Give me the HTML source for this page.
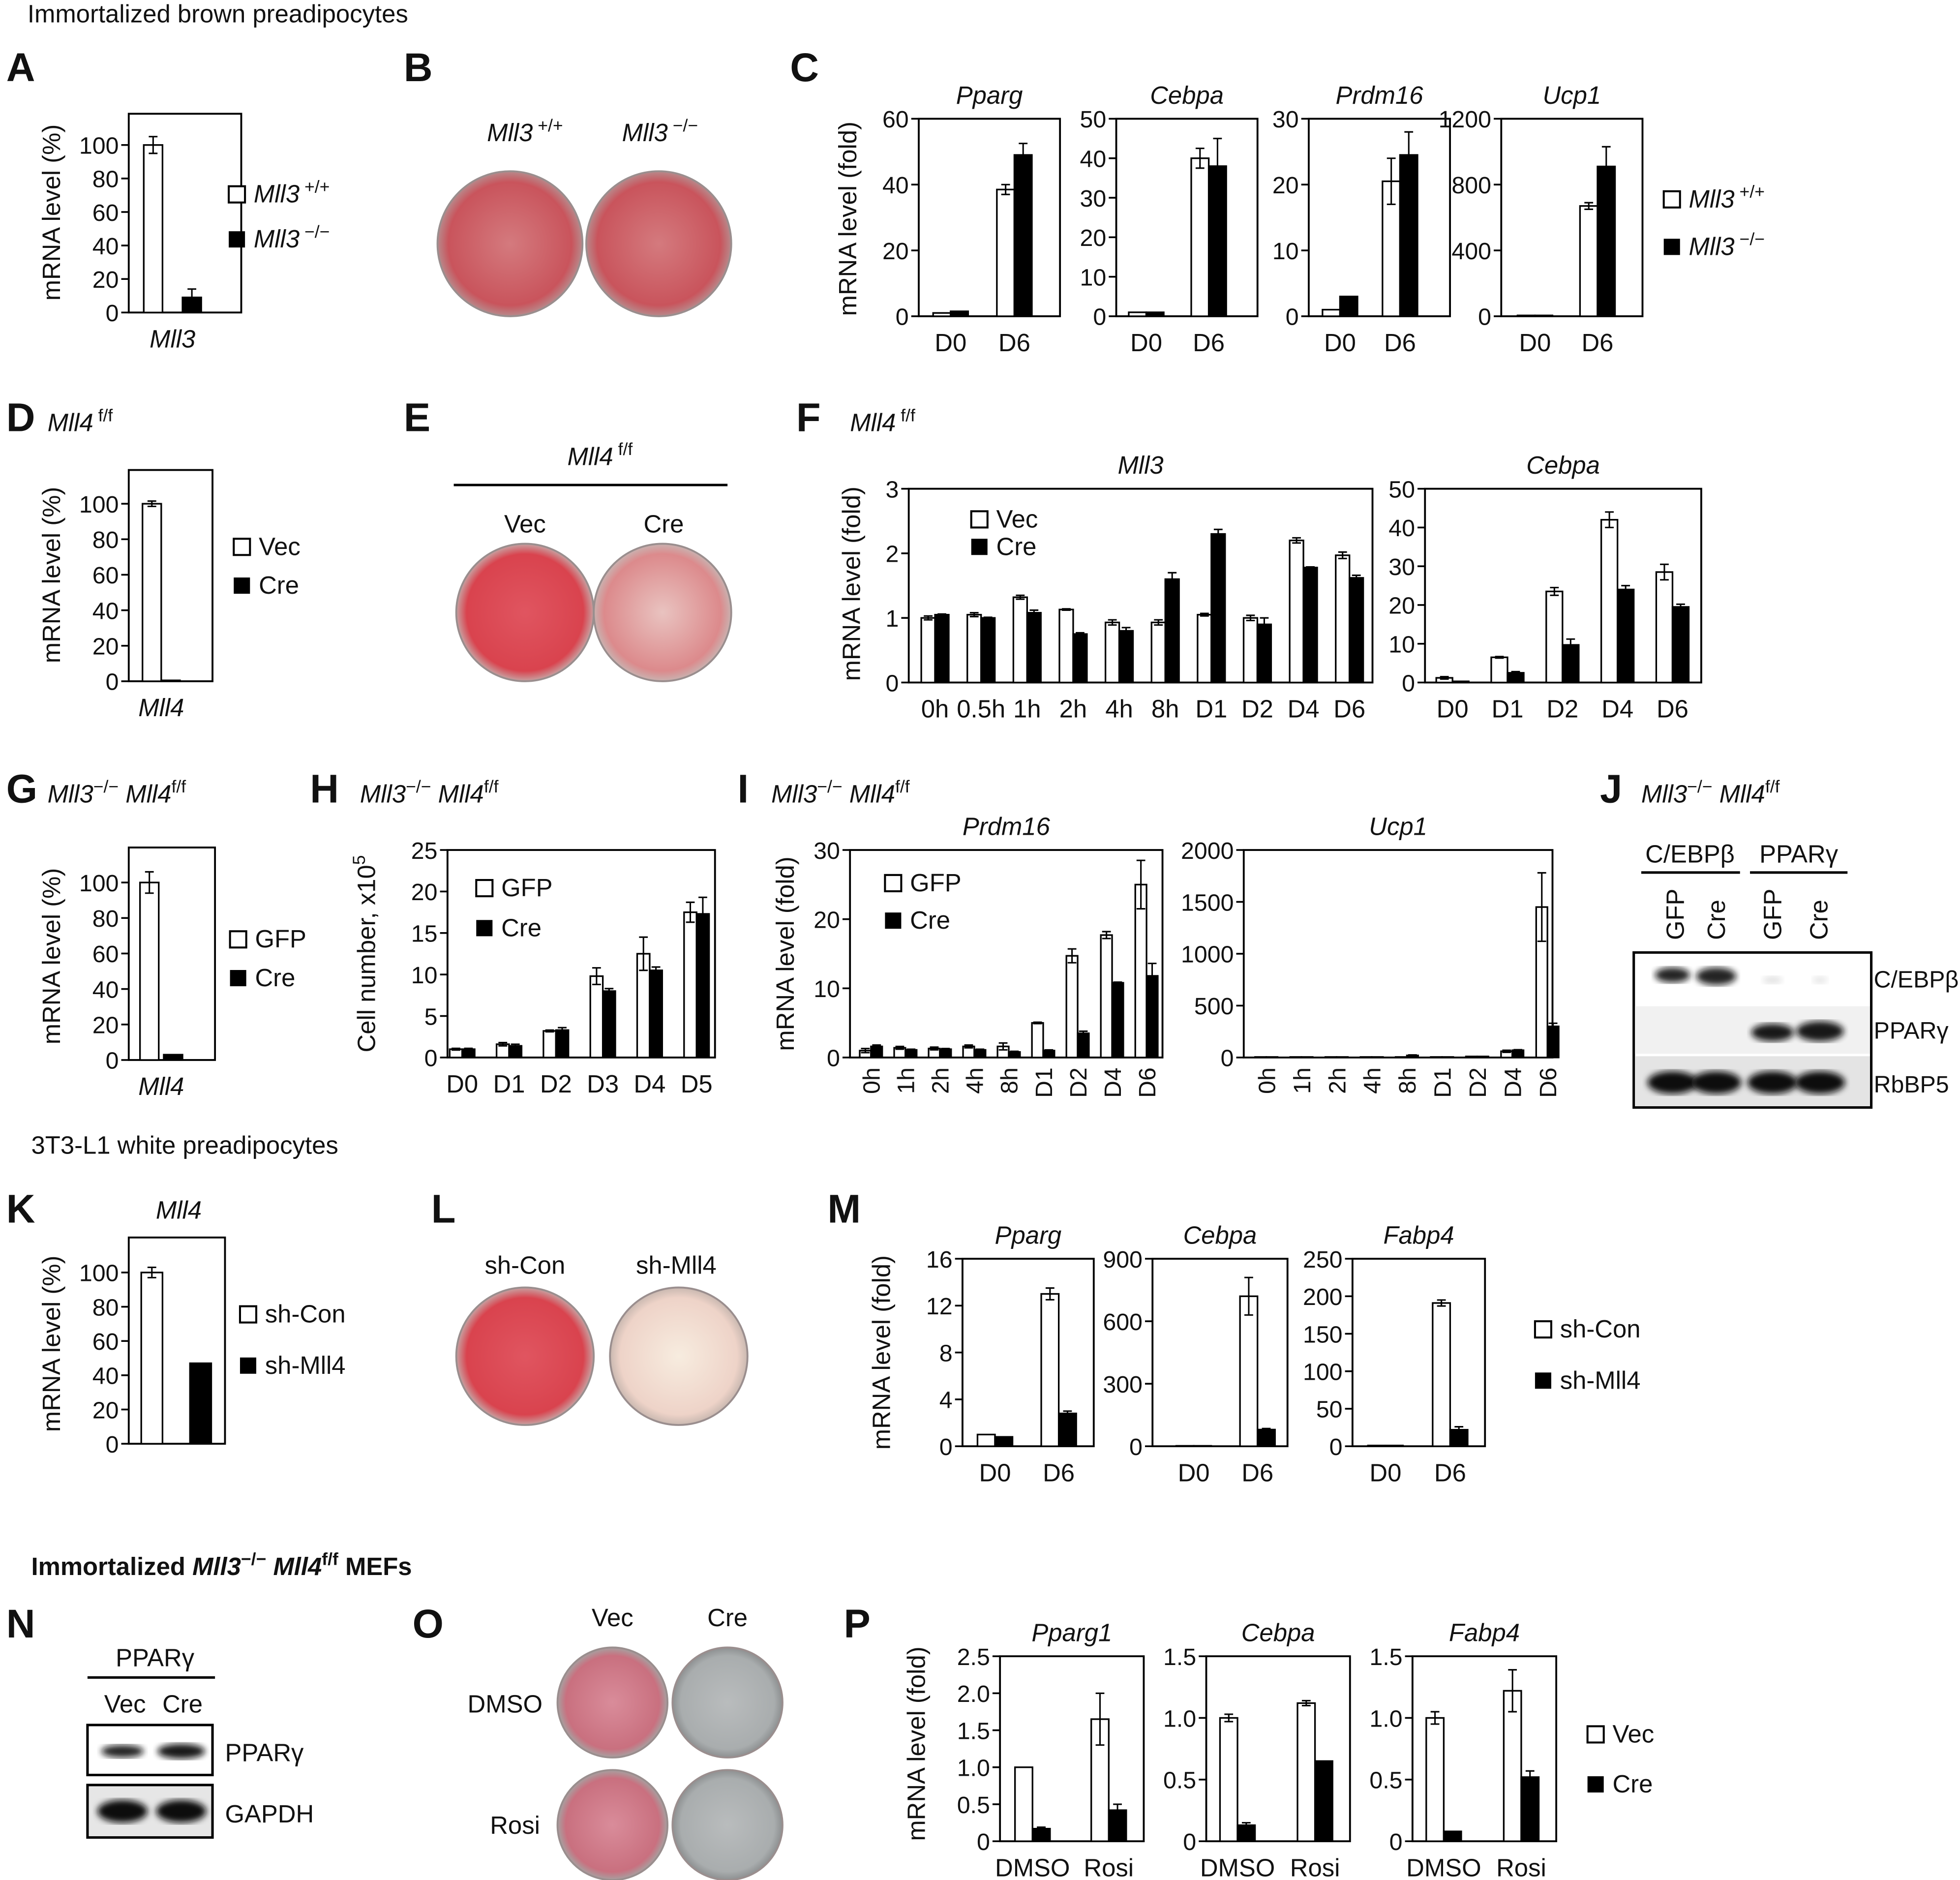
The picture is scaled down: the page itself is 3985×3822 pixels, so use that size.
<!DOCTYPE html>
<html><head><meta charset="utf-8"><style>html,body{margin:0;padding:0;background:#fff}svg{display:block}</style></head>
<body>
<svg id="fig" xmlns="http://www.w3.org/2000/svg" width="3985" height="3822" viewBox="0 0 1568 1504" preserveAspectRatio="none" font-family="Liberation Sans, Arial, sans-serif">
<defs>
<radialGradient id="red1"><stop offset="0" stop-color="#d47a7e"/><stop offset="0.85" stop-color="#c9545c"/><stop offset="1" stop-color="#b8898b"/></radialGradient>
<radialGradient id="red2"><stop offset="0" stop-color="#e05560"/><stop offset="0.85" stop-color="#d9434e"/><stop offset="1" stop-color="#c7a2a2"/></radialGradient>
<radialGradient id="red3"><stop offset="0" stop-color="#e9c3c0"/><stop offset="0.85" stop-color="#dc8a8c"/><stop offset="1" stop-color="#c9b2b0"/></radialGradient>
<radialGradient id="pale"><stop offset="0" stop-color="#f7ecdf"/><stop offset="0.85" stop-color="#eed3c8"/><stop offset="1" stop-color="#c9b8b0"/></radialGradient>
<radialGradient id="pink"><stop offset="0" stop-color="#d98c9a"/><stop offset="0.85" stop-color="#c9707f"/><stop offset="1" stop-color="#a7a0a0"/></radialGradient>
<radialGradient id="grey"><stop offset="0" stop-color="#b9bcbd"/><stop offset="0.85" stop-color="#a9adae"/><stop offset="1" stop-color="#8d9091"/></radialGradient>
<filter id="blur"><feGaussianBlur stdDeviation="2.5"/></filter>
</defs>
</svg>
<script>
// ---- data ----
const aCats=["Mll3"], aW=[100], aWE=[5], aB=[9], aBE=[5];
const c2Cats=["D0","D6"];
const cPpargW=[1,38.5], cPpargWE=[0,1.5], cPpargB=[1.5,49], cPpargBE=[0,3.5];
const cCebpaW=[1,40], cCebpaWE=[0,2.5], cCebpaB=[1,38], cCebpaBE=[0,7];
const cPrdmW=[1,20.5], cPrdmWE=[0,3.5], cPrdmB=[3,24.5], cPrdmBE=[0,3.5];
const cUcpW=[5,670], cUcpWE=[0,20], cUcpB=[5,910], cUcpBE=[0,120];
const dCats=["Mll4"], dW=[100], dWE=[1.5], dB=[0.5], dBE=[0];
const fCats=["0h","0.5h","1h","2h","4h","8h","D1","D2","D4","D6"];
const fMll3W=[1,1.05,1.32,1.13,0.93,0.93,1.05,1.0,2.2,1.97], fMll3WE=[0.03,0.03,0.03,0.01,0.04,0.04,0.02,0.04,0.04,0.05];
const fMll3B=[1.05,1.0,1.08,0.75,0.8,1.6,2.3,0.9,1.78,1.62], fMll3BE=[0.01,0.01,0.04,0.02,0.05,0.1,0.07,0.1,0.01,0.04];
const fCCats=["D0","D1","D2","D4","D6"];
const fCebW=[1.2,6.5,23.5,42,28.5], fCebWE=[0.3,0.2,1,2,2];
const fCebB=[0.3,2.5,9.7,24,19.5], fCebBE=[0,0.3,1.5,1,0.7];
const gCats=["Mll4"], gW=[100], gWE=[6], gB=[3], gBE=[0];
const hCats=["D0","D1","D2","D3","D4","D5"];
const hW=[1,1.6,3.2,9.8,12.5,17.5], hWE=[0.1,0.2,0.1,1,2,1.2];
const hB=[1,1.4,3.3,8,10.5,17.3], hBE=[0.1,0.2,0.3,0.3,0.4,2];
const iCats=["0h","1h","2h","4h","8h","D1","D2","D4","D6"];
const iPrdW=[1,1.4,1.3,1.6,1.6,5,14.7,17.7,25], iPrdWE=[0.3,0.2,0.2,0.2,0.5,0.1,1,0.5,3.5];
const iPrdB=[1.6,1.1,1.2,1.1,0.8,1,3.5,10.8,11.8], iPrdBE=[0.2,0.1,0.1,0.1,0.1,0.1,0.3,0.1,1.8];
const iUcpW=[5,5,5,5,5,5,10,60,1450], iUcpWE=[0,0,0,0,0,0,0,10,330];
const iUcpB=[5,5,5,5,20,5,10,70,300], iUcpBE=[0,0,0,0,5,0,0,5,30];
const kCats=["Mll4"], kW=[100], kWE=[3], kB=[47], kBE=[0];
const mPpargW=[1,13], mPpargWE=[0,0.5], mPpargB=[0.8,2.8], mPpargBE=[0,0.2];
const mCebW=[2,720], mCebWE=[0,90], mCebB=[2,80], mCebBE=[0,5];
const mFabW=[1,191], mFabWE=[0,4], mFabB=[1,22], mFabBE=[0,4];
const pCats=["DMSO","Rosi"];
const pPpargW=[1,1.65], pPpargWE=[0,0.35], pPpargB=[0.17,0.42], pPpargBE=[0.02,0.08];
const pCebW=[1.0,1.12], pCebWE=[0.03,0.02], pCebB=[0.13,0.65], pCebBE=[0.02,0];
const pFabW=[1.0,1.22], pFabWE=[0.05,0.17], pFabB=[0.08,0.52], pFabBE=[0,0.05];

const S='http://www.w3.org/2000/svg';
const svg=document.getElementById('fig');
function el(tag,a,p){const e=document.createElementNS(S,tag);for(const k in a)e.setAttribute(k,a[k]);(p||svg).appendChild(e);return e;}
function T(x,y,html,o){o=o||{};const e=el('text',{x:x,y:y,'font-size':o.fs||20,'text-anchor':o.anchor||'start',fill:'#111'});
 if(o.it)e.setAttribute('font-style','italic');if(o.b)e.setAttribute('font-weight','bold');
 if(o.rot)e.setAttribute('transform','rotate('+o.rot+' '+x+' '+y+')');e.innerHTML=html;return e;}
function ln(x1,y1,x2,y2,w){return el('line',{x1:x1,y1:y1,x2:x2,y2:y2,stroke:'#000','stroke-width':w||1.4});}

function panel(c){
 const g=el('g',{});
 
 
 const ys=v=>c.yZ-(v/c.vM)*(c.yZ-c.yM);
 el('rect',{x:c.x0,y:c.yT,width:c.x1-c.x0,height:c.yZ-c.yT,fill:'none',stroke:'#000','stroke-width':1.5},g);
 c.ticks.forEach(t=>{const y=ys(parseFloat(t));el('line',{x1:c.x0-6,y1:y,x2:c.x0,y2:y,stroke:'#000','stroke-width':1.4},g);
  const tx=T(c.x0-8,y+7,t,{fs:19,anchor:'end'});g.appendChild(tx);
  });
 const n=c.cats.length,step=(c.x1-c.x0-c.padL-c.padR)/n,bw=c.bw,gap=c.gap||0;
 c.cats.forEach((cat,i)=>{
  const cx=c.x0+c.padL+step*(i+0.5);
  [[c.w,c.we,'#fff',cx-bw-gap/2,'bar-white'],[c.b,c.be,'#000',cx+gap/2,'bar-black']].forEach(s=>{
   const v=s[0][i],e=s[1][i],y=ys(v);
   const r=el('rect',{x:s[3],y:y,width:bw,height:c.yZ-y,fill:s[2],stroke:'#000','stroke-width':1.3},g);
   
   if(e>0){const m=s[3]+bw/2;el('line',{x1:m,y1:ys(v+e),x2:m,y2:ys(v-e)<y?ys(v-e):y,stroke:'#000','stroke-width':1.2},g);
    el('line',{x1:m-3.5,y1:ys(v+e),x2:m+3.5,y2:ys(v+e),stroke:'#000','stroke-width':1.2},g);
    if(s[2]=='#fff'){el('line',{x1:m,y1:y,x2:m,y2:ys(v-e),stroke:'#000','stroke-width':1.2},g);el('line',{x1:m-3.5,y1:ys(v-e),x2:m+3.5,y2:ys(v-e),stroke:'#000','stroke-width':1.2},g);}}
  });
  let lab;
  if(c.rotX){lab=T(cx+7,c.yZ+8,cat,{fs:19,anchor:'end',rot:-90});}
  else lab=T(cx,c.yZ+28,cat,{fs:c.xfs||20,anchor:'middle',it:c.xIt});
  g.appendChild(lab);
 });
 if(c.title){const t=T((c.x0+c.x1)/2,c.yT-12,c.title,{it:true,anchor:'middle'});g.appendChild(t);}
}
function legend(x,y1,y2,l1,l2,fs){
 const a=el('rect',{x:x,y:y1-13,width:13,height:13,fill:'#fff',stroke:'#000','stroke-width':1.6});
 
 const b=el('rect',{x:x,y:y2-13,width:13,height:13,fill:'#000'});
 
 const t1=T(x+20,y1,l1,{fs:fs||20});
 const t2=T(x+20,y2,l2,{fs:fs||20});
}
function L(x,y,s){const t=T(x,y,s,{fs:32,b:true});}
function ylab(x,y,s){const t=T(x,y,s,{fs:20,anchor:'middle',rot:-90});}
function dish(x,y,r,f,nm){const c=el('circle',{cx:x,cy:y,r:r,fill:'url(#'+f+')',stroke:'#9a8e8e','stroke-width':1.5});}
function band(x,y,w,h,op){el('ellipse',{cx:x,cy:y,rx:w,ry:h,fill:'#111',opacity:op,filter:'url(#blur)'});}
const sup=s=>'<tspan dy="-8" font-size="14">'+s+'</tspan>';
const MM='<tspan font-style="italic">Mll3</tspan>'+sup('−/−')+'<tspan dy="8"> </tspan><tspan font-style="italic">Mll4</tspan>'+sup('f/f');

// headers
let h=T(22,18,'Immortalized brown preadipocytes',{fs:20});
h=T(25,923,'3T3-L1 white preadipocytes',{fs:20});
h=T(25,1260,'Immortalized <tspan font-style="italic">Mll3</tspan>'+sup('−/−')+'<tspan dy="8"> </tspan><tspan font-style="italic">Mll4</tspan>'+sup('f/f')+'<tspan dy="8"> MEFs</tspan>',{fs:20,b:true});

// A
L(5,65,'A');ylab(48,170,'mRNA level (%)');
panel({name:'panel-a-chart',x0:103,x1:193,yT:91,yZ:250,yM:116,vM:100,ticks:['0','20','40','60','80','100'],cats:aCats,w:aW,we:aWE,b:aB,be:aBE,padL:5,padR:25,bw:15,gap:16,xIt:true});
legend(183,162,198,'<tspan font-style="italic">Mll3</tspan>'+sup(' +/+'),'<tspan font-style="italic">Mll3</tspan>'+sup(' −/−'));
// B
L(323,65,'B');
T(420,113,'<tspan font-style="italic">Mll3</tspan>'+sup(' +/+'),{anchor:'middle'});T(528,113,'<tspan font-style="italic">Mll3</tspan>'+sup(' −/−'),{anchor:'middle'});
dish(408,195,58,'red1','dish-wt');dish(527,195,58,'red1','dish-ko');
// C
L(632,65,'C');ylab(685,175,'mRNA level (fold)');
panel({name:'panel-c-pparg',title:'Pparg',x0:735,x1:848,yT:95,yZ:253,yM:95,vM:60,ticks:['0','20','40','60'],cats:c2Cats,w:cPpargW,we:cPpargWE,b:cPpargB,be:cPpargBE,padL:0,padR:11,bw:14});
panel({name:'panel-c-cebpa',title:'Cebpa',x0:893,x1:1006,yT:95,yZ:253,yM:95,vM:50,ticks:['0','10','20','30','40','50'],cats:c2Cats,w:cCebpaW,we:cCebpaWE,b:cCebpaB,be:cCebpaBE,padL:-1,padR:14,bw:14});
panel({name:'panel-c-prdm16',title:'Prdm16',x0:1047,x1:1160,yT:95,yZ:253,yM:95,vM:30,ticks:['0','10','20','30'],cats:c2Cats,w:cPrdmW,we:cPrdmWE,b:cPrdmB,be:cPrdmBE,padL:1,padR:16,bw:14});
panel({name:'panel-c-ucp1',title:'Ucp1',x0:1201,x1:1314,yT:95,yZ:253,yM:95,vM:1200,ticks:['0','400','800','1200'],cats:c2Cats,w:cUcpW,we:cUcpWE,b:cUcpB,be:cUcpBE,padL:2,padR:11,bw:14});
legend(1331,166,204,'<tspan font-style="italic">Mll3</tspan>'+sup(' +/+'),'<tspan font-style="italic">Mll3</tspan>'+sup(' −/−'));
// D
L(5,345,'D');T(38,345,'<tspan font-style="italic">Mll4</tspan>'+sup(' f/f'));ylab(48,460,'mRNA level (%)');
panel({name:'panel-d-chart',x0:103,x1:170,yT:376,yZ:545,yM:403,vM:100,ticks:['0','20','40','60','80','100'],cats:dCats,w:dW,we:dWE,b:dB,be:dBE,padL:0,padR:15,bw:15,gap:0,xIt:true});
legend(187,444,475,'Vec','Cre');
// E
L(323,345,'E');T(480,372,'<tspan font-style="italic">Mll4</tspan>'+sup(' f/f'),{anchor:'middle'});ln(363,388,582,388,2);
T(420,426,'Vec',{anchor:'middle'});T(531,426,'Cre',{anchor:'middle'});
dish(420,490,55,'red2','dish-vec');dish(530,490,55,'red3','dish-cre');
// F
L(637,345,'F');T(680,345,'<tspan font-style="italic">Mll4</tspan>'+sup(' f/f'));ylab(688,467,'mRNA level (fold)');
panel({name:'panel-f-mll3',title:'Mll3',x0:727,x1:1098,yT:391,yZ:546,yM:391,vM:3,ticks:['0','1','2','3'],cats:fCats,w:fMll3W,we:fMll3WE,b:fMll3B,be:fMll3BE,padL:2.6,padR:0,bw:11});
panel({name:'panel-f-cebpa',title:'Cebpa',x0:1140,x1:1361,yT:391,yZ:546,yM:391,vM:50,ticks:['0','10','20','30','40','50'],cats:fCCats,w:fCebW,we:fCebWE,b:fCebB,be:fCebBE,padL:0,padR:1,bw:13});
legend(777,422,444,'Vec','Cre');
// G
L(5,642,'G');T(38,642,MM);ylab(48,765,'mRNA level (%)');
panel({name:'panel-g-chart',x0:103,x1:172,yT:678,yZ:848,yM:706,vM:100,ticks:['0','20','40','60','80','100'],cats:gCats,w:gW,we:gWE,b:gB,be:gBE,padL:0,padR:17,bw:15,gap:4,xIt:true});
legend(184,758,789,'GFP','Cre');
// H
L(248,642,'H');T(288,642,MM);ylab(300,763,'Cell number, x10'+sup('5'));
panel({name:'panel-h-chart',x0:358,x1:572,yT:680,yZ:846,yM:680,vM:25,ticks:['0','5','10','15','20','25'],cats:hCats,w:hW,we:hWE,b:hB,be:hBE,padL:-7,padR:-4,bw:10});
legend(381,717,749,'GFP','Cre');
// I
L(590,642,'I');T(617,642,MM);ylab(635,763,'mRNA level (fold)');
panel({name:'panel-i-prdm16',title:'Prdm16',x0:680,x1:930,yT:680,yZ:846,yM:680,vM:30,ticks:['0','10','20','30'],cats:iCats,w:iPrdW,we:iPrdWE,b:iPrdB,be:iPrdBE,padL:3,padR:-1,bw:9,rotX:true});
panel({name:'panel-i-ucp1',title:'Ucp1',x0:995,x1:1242,yT:680,yZ:846,yM:680,vM:2000,ticks:['0','500','1000','1500','2000'],cats:iCats,w:iUcpW,we:iUcpWE,b:iUcpB,be:iUcpBE,padL:4,padR:-10,bw:9,rotX:true});
legend(708,713,743,'GFP','Cre');
// J
L(1280,642,'J');T(1313,642,MM);
T(1352,690,'C/EBPβ',{anchor:'middle'});T(1439,690,'PPARγ',{anchor:'middle'});ln(1313,698,1392,698,2);ln(1400,698,1478,698,2);
[['GFP',1340],['Cre',1373],['GFP',1418],['Cre',1455]].forEach(a=>T(a[1]+7,752,a[0],{anchor:'start',rot:-90}));
let bl=el('rect',{x:1307,y:762,width:190,height:124,fill:'#fff',stroke:'#000','stroke-width':2});
el('rect',{x:1308,y:805,width:188,height:38,fill:'#f1f1f1'});el('rect',{x:1308,y:845,width:188,height:40,fill:'#e4e4e4'});
band(1338,780,14,6,0.9);band(1373,781,16,7,0.9);band(1418,784,8,3,0.12);band(1456,784,6,3,0.1);
band(1418,826,17,7,0.95);band(1456,825,19,8,0.95);
[1338,1373,1418,1456].forEach(x=>band(x,866,20,9,1));
T(1499,790,'C/EBPβ',{fs:19});T(1499,831,'PPARγ',{fs:19});T(1499,874,'RbBP5',{fs:19});
// K
L(5,978,'K');T(143,975,'Mll4',{it:true,anchor:'middle'});ylab(48,1075,'mRNA level (%)');
panel({name:'panel-k-chart',x0:103,x1:180,yT:990,yZ:1155,yM:1018,vM:100,ticks:['0','20','40','60','80','100'],cats:kCats,w:kW,we:kWE,b:kB,be:kBE,padL:0,padR:1,bw:17,gap:22,xIt:true,xfs:0.1});
legend(192,1058,1099,'sh-Con','sh-Mll4');
// L
L(345,978,'L');T(420,1019,'sh-Con',{anchor:'middle'});T(541,1019,'sh-Mll4',{anchor:'middle'});
dish(420,1085,55,'red2','dish-shcon');dish(543,1085,55,'pale','dish-shmll4');
// M
L(662,978,'M');ylab(712,1082,'mRNA level (fold)');
panel({name:'panel-m-pparg',title:'Pparg',x0:770,x1:875,yT:1007,yZ:1157,yM:1007,vM:16,ticks:['0','4','8','12','16'],cats:c2Cats,w:mPpargW,we:mPpargWE,b:mPpargB,be:mPpargBE,padL:0.5,padR:2.5,bw:14});
panel({name:'panel-m-cebpa',title:'Cebpa',x0:922,x1:1030,yT:1007,yZ:1157,yM:1007,vM:900,ticks:['0','300','600','900'],cats:c2Cats,w:mCebW,we:mCebWE,b:mCebB,be:mCebBE,padL:7.5,padR:-1.5,bw:14});
panel({name:'panel-m-fabp4',title:'Fabp4',x0:1082,x1:1188,yT:1007,yZ:1157,yM:1007,vM:250,ticks:['0','50','100','150','200','250'],cats:c2Cats,w:mFabW,we:mFabWE,b:mFabB,be:mFabBE,padL:0.5,padR:2,bw:14});
legend(1228,1070,1111,'sh-Con','sh-Mll4');
// N
L(5,1310,'N');T(124,1333,'PPARγ',{anchor:'middle'});ln(70,1342,172,1342,2);
T(100,1370,'Vec',{anchor:'middle'});T(146,1370,'Cre',{anchor:'middle'});
bl=el('rect',{x:70,y:1380,width:100,height:40,fill:'#fff',stroke:'#000','stroke-width':2});
bl=el('rect',{x:70,y:1428,width:100,height:42,fill:'#e6e6e6',stroke:'#000','stroke-width':2});
band(98,1401,17,5,0.9);band(145,1401,19,6,0.95);band(98,1449,20,9,1);band(145,1449,20,9,1);
T(180,1409,'PPARγ');T(180,1458,'GAPDH');
// O
L(330,1310,'O');T(490,1301,'Vec',{anchor:'middle'});T(582,1301,'Cre',{anchor:'middle'});
T(434,1370,'DMSO',{anchor:'end'});T(432,1467,'Rosi',{anchor:'end'});
dish(490,1362,44,'pink','dish-dmso-vec');dish(582,1362,44,'grey','dish-dmso-cre');dish(490,1460,44,'pink','dish-rosi-vec');dish(582,1460,44,'grey','dish-rosi-cre');
// P
L(675,1310,'P');ylab(740,1395,'mRNA level (fold)');
panel({name:'panel-p-pparg1',title:'Pparg1',x0:800,x1:915,yT:1325,yZ:1473,yM:1325,vM:2.5,ticks:['0','0.5','1.0','1.5','2.0','2.5'],cats:pCats,w:pPpargW,we:pPpargWE,b:pPpargB,be:pPpargBE,padL:-4.5,padR:-2.5,bw:14});
panel({name:'panel-p-cebpa',title:'Cebpa',x0:965,x1:1080,yT:1325,yZ:1473,yM:1325,vM:1.5,ticks:['0','0.5','1.0','1.5'],cats:pCats,w:pCebW,we:pCebWE,b:pCebB,be:pCebBE,padL:-6,padR:-3,bw:14});
panel({name:'panel-p-fabp4',title:'Fabp4',x0:1130,x1:1245,yT:1325,yZ:1473,yM:1325,vM:1.5,ticks:['0','0.5','1.0','1.5'],cats:pCats,w:pFabW,we:pFabWE,b:pFabB,be:pFabBE,padL:-6,padR:-3,bw:14});
legend(1270,1394,1434,'Vec','Cre');
</script>
</body></html>
